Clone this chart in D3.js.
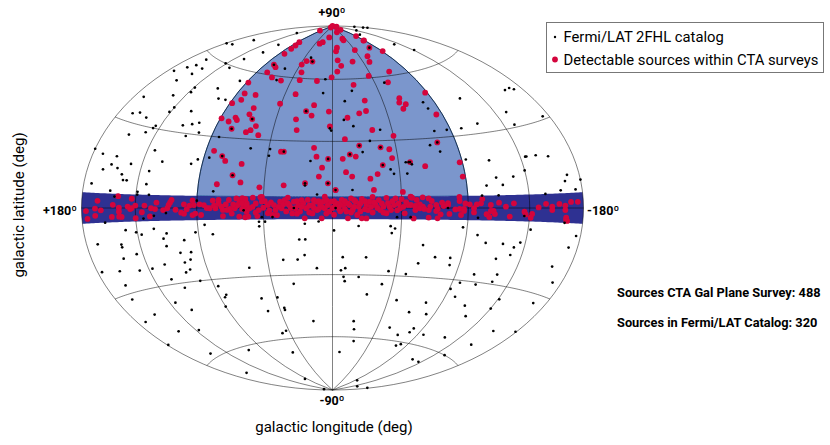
<!DOCTYPE html>
<html>
<head>
<meta charset="utf-8">
<script src="https://cdn.jsdelivr.net/npm/d3@7"></script>
<style>
body { margin: 0; background: #fff; }
text { font-family: Roboto, sans-serif; fill: #000; }
</style>
</head>
<body>
<svg id="sky" width="830" height="445"></svg>
<script>
// [galactic longitude, galactic latitude] in degrees
var fermiSources = [
[138,81],[179,65],[171,66],[162,71],[114,74],[115,69],[162,58],[124,64],[136,60],[125,59],[174,50],[167,53],[162,55],[151,55],[153,52],
[159,48],[171,39],[146,43],[134,48],[133,46],[112,50],[103,46],[96,46],[98,55],[135,39],[136,37],[118,39],[167,33],[161,34],[152,33],
[117,33],[110,34],[105,35],[139,31],[140,30],[144,28],[157,26],[110,29],[101,31],[84,30],[180,19],[171,18],[158,18],[129,22],[94,20],
[86,21],[120,18],[144,16],[98,18],[160,15],[154,14],[166,13],[128,14],[149,12],[147,10],[144,10],[173,8],[128,9],[156,6],[134,6],
[134,5],[125,5],[152,4],[79,7],[35,71],[61,64],[61,58],[8,60],[9,53],[58,26],[44,26],[44,23],[15,21],[1,35],[10,6],
[18,10],[30,69],[22,44],[64,39],[77,34],[77,22],[34,25],[3,22],[67,14],[18,11],[3,11],[-2,8],[79,65],[-179,85],[-178,83],
[-180,82],[-136,84],[-109,82],[-127,73],[-136,68],[-77,75],[-55,57],[-19,54],[-11,49],[-80,46],[-81,43],[-115,45],[-163,43],[-169,43],[-172,42],
[-145,36],[-174,31],[-144,31],[-114,34],[-99,33],[-87,33],[-77,33],[-36,35],[-16,37],[-9,40],[-27,30],[-76,28],[-70,27],[-19,28],[-21,25],
[-34,27],[-12,24],[-76,24],[-93,20],[-110,19],[-140,19],[-139,19],[-148,19],[-158,18],[-135,14],[-169,11],[-166,9],[-180,9],[-112,12],[-125,12],
[-104,9],[-116,9],[-161,6],[-174,6],[-100,5],[-112,5],[-148,5],[-34,19],[-39,17],[-41,15],[-50,15],[-50,20],[-52,20],[-53,20],[-54,19],
[-13,8],[2,36],[160,-5],[144,-8],[136,-9],[132,-10],[122,-8],[113,-10],[116,-12],[85,-7],[92,-10],[80,-11],[48,-6],[44,-6],[48,-8],
[18,-7],[9,-6],[170,-12],[150,-13],[150,-14],[115,-15],[101,-13],[22,-14],[18,-14],[140,-17],[106,-18],[98,-18],[19,-21],[152,-18],[100,-21],
[105,-22],[121,-22],[34,-23],[24,-23],[176,-21],[160,-22],[143,-23],[132,-23],[103,-25],[107,-26],[59,-26],[11,-27],[121,-28],[99,-30],[162,-27],
[114,-32],[87,-33],[29,-34],[165,-32],[130,-37],[86,-38],[84,-37],[57,-40],[44,-40],[90,-42],[41,-45],[41,-46],[56,-46],[121,-41],[157,-39],
[172,-40],[18,-52],[132,-49],[152,-47],[48,-56],[53,-57],[179,-49],[153,-58],[107,-62],[56,-67],[160,-69],[95,-81],[153,-88],[-164,-5],[-17,-8],
[-38,-8],[-41,-9],[-39,-11],[-1,-10],[-87,-8],[-137,-8],[-98,-11],[-176,-9],[-105,-14],[-61,-16],[-118,-14],[-131,-13],[-127,-15],[-172,-13],[-126,-18],
[-23,-22],[-7,-22],[-71,-21],[-82,-21],[-116,-20],[-60,-24],[-83,-24],[-164,-20],[-6,-28],[-9,-27],[-40,-28],[-53,-29],[-104,-27],[-122,-26],[-8,-31],
[-19,-31],[-9,-33],[-172,-25],[-121,-29],[-96,-31],[-109,-31],[-37,-34],[-91,-34],[-98,-37],[-27,-39],[-52,-41],[-136,-35],[-77,-41],[-111,-40],[-135,-39],
[-67,-46],[-168,-33],[-83,-46],[-119,-44],[-20,-52],[-22,-56],[-57,-54],[-81,-53],[-80,-55],[-70,-57],[-96,-55],[-158,-46],[-179,-43],[-120,-54],[-25,-62],
[-78,-62],[-82,-61],[-155,-53],[-10,-68],[-146,-60],[-119,-66],[-131,-66],[-95,-82],[-146,-84],[-176,-82],[90,3],[58,-1],[112,-2],[121,-3],[129,-4],
[46,-4],[39,-4],[25,0],[-2,0],[-51,-4],[-42,-4],[-76,0],[-131,-3],[-97,-4]
];

var surveySources = [
[94,86],[45,89],[-108,89],[13,83],[34,79],[28,80],[86,78],[83,76],[82,74],[82,71],[39,69],[30,69],[43,67],
[79,65],[74,64],[38,63],[78,61],[68,59],[56,58],[36,59],[17,59],[88,55],[35,52],[83,50],[72,50],[82,47],
[88,45],[46,47],[67,44],[68,41],[22,44],[16,47],[3,44],[17,42],[78,39],[76,38],[64,39],[89,38],[82,37],
[29,40],[59,36],[77,34],[65,33],[62,34],[27,35],[2,37],[55,32],[84,24],[77,22],[74,20],[36,25],[34,25],
[13,27],[11,23],[3,22],[62,19],[7,18],[67,14],[9,14],[61,11],[77,10],[48,9],[32,10],[18,11],[3,11],
[-2,8],[-49,90],[-134,89],[-30,86],[-78,87],[-90,82],[-35,82],[-35,81],[-87,79],[-89,79],[-10,77],[-7,75],[-45,75],
[-77,75],[-91,72],[-58,71],[-8,70],[-30,69],[-54,68],[-12,67],[-6,64],[-69,62],[-42,61],[1,61],[-59,57],[-22,57],
[-88,50],[-61,49],[-29,49],[-59,47],[-64,46],[-60,44],[-28,44],[-22,43],[-85,40],[-12,41],[-30,35],[-45,32],[-9,31],
[-76,28],[-19,28],[-34,27],[-40,26],[-12,24],[-7,22],[-16,23],[-41,22],[-53,20],[-88,19],[-34,19],[-63,18],[-9,16],
[-30,15],[-13,14],[-88,13],[-25,13],[-27,8],[-2,8],[-46,7],
[149,4.2],[166,2.4],[176,-1.0],[175,-3.5],[168,-0.2],[168,-2.6],[163,-0.8],[154,-3.1],[153,1.1],[148,0.1],[148,-1.3],[148,-3.1],
[146,-3.2],[141,0.5],[138,3.4],[139,-0.4],[138,-0.1],[135,0.9],[135,-3.8],[130,-1.6],[128,0.9],[124,-3.2],[123,-0.1],[120,-0.4],
[119,2.1],[114,-0.8],[111,-0.1],[110,1.2],[109,2.2],[108,3.2],[105,-0.7],[101,-1.9],[99,1.5],[99,-2.3],[95,1.0],[93,3.1],
[92,1.2],[93,-2.9],[91,-2.3],[88,1.5],[85,1.2],[87,-2.9],[81,-0.1],[79,3.1],[75,3.4],[78,1.0],[75,2.0],[77,-0.1],
[73,0.6],[72,-0.8],[68,3.4],[69,-0.8],[67,-0.4],[72,-3.4],[66,-2.4],[64,-0.1],[63,4.1],[62,1.3],[61,3.4],[59,4.2],
[57,3.5],[56,2.0],[58,0.6],[61,-3.7],[57,-4.0],[55,-0.1],[63,0.9],[59,-0.4],[56,-1.6],[57,3.9],[52,4.5],[47,4.7],
[46,4.8],[59,2.0],[56,1.3],[50,2.0],[46,2.8],[54,-0.1],[48,-0.9],[45,0.1],[42,1.3],[55,-3.7],[49,-3.5],[42,-2.3],
[38,1.3],[37,-0.9],[34,2.8],[33,-0.1],[36,-3.1],[31,3.5],[29,4.6],[28,1.3],[25,2.8],[26,-2.4],[24,-0.1],[22,1.3],
[21,-1.6],[18,-4.6],[19,2.1],[16,3.6],[17,-0.1],[13,1.3],[11,2.8],[13,-2.4],[10,-0.9],[8,1.3],[5,5.0],[6,2.8],
[5,-0.1],[7,-4.6],[3,1.3],[1,2.8],[2,-1.6],[-2,1.3],[-4,-0.1],[-6,3.6],[-7,1.3],[-9,-1.6],[-10,-4.6],[-12,4.3],
[-11,1.3],[-15,2.8],[-13,-0.9],[-17,0.6],[-16,-3.1],[-19,-4.6],[-22,-4.6],[-19,4.0],[-22,1.3],[-24,2.8],[-23,-0.9],[-26,4.9],
[-28,1.3],[-30,3.5],[-31,-0.9],[-33,0.6],[-35,4.5],[-36,2.1],[-35,-2.3],[-38,-0.9],[-41,4.2],[-40,1.3],[-44,-0.1],[-45,3.9],
[-47,-2.3],[-51,4.9],[-49,1.3],[-53,-4.5],[-54,-0.9],[-56,1.3],[-55,3.5],[-51,4.8],[-59,4.6],[-63,4.1],[-65,3.0],[-51,1.3],
[-54,0.6],[-57,1.6],[-59,0.6],[-64,0.6],[-68,1.3],[-72,2.3],[-76,2.0],[-84,4.6],[-84,2.9],[-88,1.9],[-91,1.5],[-100,3.6],
[-99,1.9],[-96,1.5],[-106,1.2],[-112,2.1],[-123,1.8],[-117,0.5],[-142,0.2],[-148,1.5],[-153,0.5],[-153,-0.7],[-159,1.4],[-164,0.8],
[-169,2.0],[-175,2.0],[-52,4.5],[-54,0.9],[-57,-0.1],[-60,-0.4],[-63,-4.1],[-63,-0.9],[-68,-1.3],[-69,-0.4],[-69,-4.4],[-71,-2.7],
[-73,0.8],[-77,-2.5],[-76,1.3],[-81,-0.6],[-84,-0.4],[-87,-0.4],[-87,-1.2],[-85,-2.9],[-94,-0.1],[-94,-1.8],[-106,-1.2],[-108,-1.2],
[-109,-2.4],[-103,-2.5],[-105,-3.6],[-120,-3.3],[-131,-1.4],[-132,-2.4],[-137,-2.2],[-136,-3.6],[-165,-3.2],[-165,-3.9],[-164,-0.7],[-166,-4.3],
// inner plane, points overlap here so these are estimates
[44,3],[41,-1],[40,2.5],[39,-3],[35,0.5],[32,1.5],[30,-1.5],[29,2],[27,0],[23,3],[23,-2.5],[20,0.5],[20,3.5],[15,1],[15,-2],[12,0],[12,3.5],[9,-0.5],[9,3],[7,0.5],
[4,3.5],[4,-2.5],[0,0],[-1,3],[-1,-3],[-3,2],[-5,-1.5],[-5,1.5],[-8,3],[-8,-0.5],[-10,2],[-12,-2],[-14,0.5],[-14,3.5],[-18,2],[-18,-1.5],[-21,-0.5],[-21,3],[-25,0.5],[-26,-2],
[-27,2.5],[-29,0],[-32,2],[-33,-2],[-37,0.5],[-39,3],[-42,-1],[-43,2],[-46,0.5],[-48,2.5],[52,0.5],[50,-2],[65,1.5],[70,1.5],[83,0],[97,-0.5]
];

var meridians = [-135, -90, -45, 0, 45, 90, 135];
var parallels = [-60, -30, 0, 30, 60];
var planeHalfWidth = 5;   // survey strip around the plane, degrees
var extragalacticLon = 90;

var legendLabels = ["Fermi/LAT 2FHL catalog", "Detectable sources within CTA surveys"];
var countLabels = ["Sources CTA Gal Plane Survey: 488", "Sources in Fermi/LAT Catalog: 320"];

var svg = d3.select("#sky");

// hammer plane -> page, the figure is squeezed so the two axes differ
var x = d3.scaleLinear().domain([-2 * Math.SQRT2, 2 * Math.SQRT2]).range([81.5, 583.5]);
var y = d3.scaleLinear().domain([-Math.SQRT2, Math.SQRT2]).range([390, 26]);

// longitude grows to the left
function hammerRaw(lam, phi) {
    var c = Math.cos(phi);
    var d = Math.sqrt(1 + c * Math.cos(lam / 2));
    return [x(-2 * Math.SQRT2 * c * Math.sin(lam / 2) / d), -y(Math.SQRT2 * Math.sin(phi) / d)];
}

// d3 puts raw(0,0) on the translate point, so that is the map centre
var projection = d3.geoProjection(hammerRaw).scale(1).translate([x(0), y(0)]).precision(0.2);
var path = d3.geoPath(projection);

function parallelLine(lat, lon0, lon1) {
    return d3.range(lon0, lon1, 2).concat([lon1]).map(function(l) { return [l, lat]; });
}

// extragalactic cap and plane strip, both clockwise as d3 wants it
var capRing = [[-extragalacticLon, 45], [-extragalacticLon, 89.99], [extragalacticLon, 89.99], [extragalacticLon, 45]]
    .concat(parallelLine(planeHalfWidth, -extragalacticLon, extragalacticLon).reverse());
capRing.push(capRing[0]);

var edge = 179.99;
var bandRing = parallelLine(planeHalfWidth, -edge, edge)
    .concat(parallelLine(-planeHalfWidth, -edge, edge).reverse());
bandRing.push(bandRing[0]);

svg.append("path")
    .attr("d", path({type: "Polygon", coordinates: [capRing]}))
    .attr("fill", "#7b96cc")
    .attr("stroke", "#2f5f9e")
    .attr("stroke-width", 1);

svg.append("path")
    .attr("d", path({type: "Polygon", coordinates: [bandRing]}))
    .attr("fill", "#2e3192")
    .attr("stroke", "none");

// graticule
var gratLines = meridians.map(function(m) {
    return {type: "LineString", coordinates: [[m, -90], [m, -45], [m, 0], [m, 45], [m, 90]]};
}).concat(parallels.map(function(p) {
    return {type: "LineString", coordinates: parallelLine(p, -edge, edge)};
}));

svg.selectAll(".grat")
    .data(gratLines)
  .enter()
    .append("path")
    .classed("grat", true)
    .attr("d", path)
    .attr("fill", "none")
    .attr("stroke", "#000")
    .attr("stroke-opacity", 0.55)
    .attr("stroke-width", 0.9);

svg.append("path")
    .attr("d", path({type: "Sphere"}))
    .attr("fill", "none")
    .attr("stroke", "#000")
    .attr("stroke-opacity", 0.55)
    .attr("stroke-width", 0.9);

svg.selectAll(".survey")
    .data(surveySources)
  .enter()
    .append("circle")
    .classed("survey", true)
    .attr("cx", function(d) { return projection(d)[0]; })
    .attr("cy", function(d) { return projection(d)[1]; })
    .attr("r", 2.9)
    .attr("fill", "#d4043c");

svg.selectAll(".fermi")
    .data(fermiSources)
  .enter()
    .append("circle")
    .classed("fermi", true)
    .attr("cx", function(d) { return projection(d)[0]; })
    .attr("cy", function(d) { return projection(d)[1]; })
    .attr("r", 1.35)
    .attr("fill", "#000");

// corner labels of the map
function label(txt, px, py, anchor, size, weight) {
    return svg.append("text")
        .attr("x", px)
        .attr("y", py)
        .attr("text-anchor", anchor)
        .attr("font-size", size)
        .attr("font-weight", weight)
        .text(txt);
}

label("+90º", 332, 17, "middle", 12.5, 700);
label("-90º", 332, 405, "middle", 12.5, 700);
label("+180º", 77, 215, "end", 12.5, 700);
label("-180º", 587, 215, "start", 12.5, 700);

label("galactic longitude (deg)", 334, 432, "middle", 15, 400);
svg.append("text")
    .attr("transform", "translate(24, 205) rotate(-90)")
    .attr("text-anchor", "middle")
    .attr("font-size", 15)
    .text("galactic latitude (deg)");

// legend
svg.append("rect")
    .attr("x", 546.5)
    .attr("y", 22.5)
    .attr("width", 277)
    .attr("height", 50)
    .attr("fill", "#fff")
    .attr("stroke", "#777")
    .attr("stroke-width", 1);

svg.append("circle").attr("cx", 555).attr("cy", 37).attr("r", 1.2).attr("fill", "#000");
svg.append("circle").attr("cx", 555).attr("cy", 59.5).attr("r", 2.9).attr("fill", "#d4043c");
label(legendLabels[0], 563.5, 42, "start", 14.8, 400);
label(legendLabels[1], 563.5, 65, "start", 14.8, 400);

label(countLabels[0], 617, 297, "start", 12.8, 700);
label(countLabels[1], 617, 327, "start", 12.8, 700);
</script>
</body>
</html>
